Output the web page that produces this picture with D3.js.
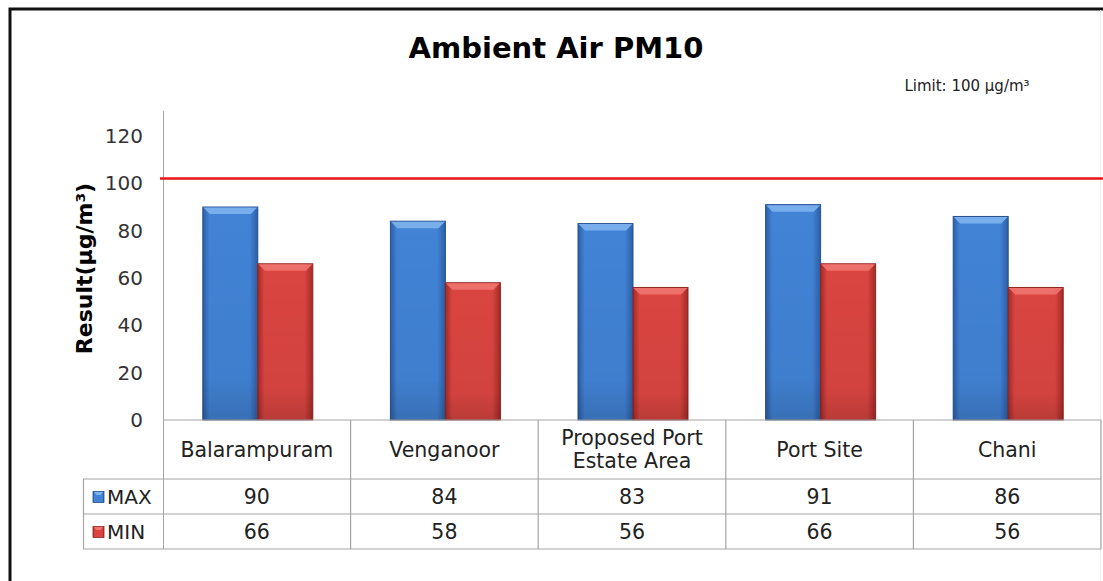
<!DOCTYPE html>
<html><head><meta charset="utf-8">
<script src="https://cdn.jsdelivr.net/npm/d3@7"></script>
<style>
html,body{margin:0;padding:0;background:#fff;}
svg{display:block;}
text{font-family:"DejaVu Sans",Verdana,sans-serif;}
</style></head>
<body>
<script>
const categories = ["Balarampuram","Venganoor","Proposed Port\nEstate Area","Port Site","Chani"];
const seriesNames = ["MAX","MIN"];
const maxValues = [90,84,83,91,86];
const minValues = [66,58,56,66,56];
const yTicks = [0,20,40,60,80,100,120];
const limitLineValue = 102;
const titleText = "Ambient Air PM10";
const limitText = "Limit: 100 μg/m³";
const yLabel = "Result(μg/m³)";

const W = 1103, H = 581;
const svg = d3.select("body").append("svg").attr("width",W).attr("height",H);
const defs = svg.append("defs");

const colors = {
  MAX:{mid:"#4283d6", edge:"#2c5ea6", top:"#7fb2ee", stroke:"#27508f"},
  MIN:{mid:"#da4541", edge:"#a52a26", top:"#f07470", stroke:"#8e2421"}
};
seriesNames.forEach(s=>{
  const g = defs.append("linearGradient").attr("id","g"+s).attr("x1","0").attr("x2","1").attr("y1","0").attr("y2","0");
  g.append("stop").attr("offset","0").attr("stop-color",colors[s].edge);
  g.append("stop").attr("offset","0.12").attr("stop-color",colors[s].mid);
  g.append("stop").attr("offset","0.85").attr("stop-color",colors[s].mid);
  g.append("stop").attr("offset","1").attr("stop-color",colors[s].edge);
  const v = defs.append("linearGradient").attr("id","v"+s).attr("x1","0").attr("x2","0").attr("y1","0").attr("y2","1");
  v.append("stop").attr("offset","0").attr("stop-color","#000").attr("stop-opacity",0);
  v.append("stop").attr("offset","0.8").attr("stop-color","#000").attr("stop-opacity",0.04);
  v.append("stop").attr("offset","1").attr("stop-color","#000").attr("stop-opacity",0.15);
});

// frame
svg.append("path").attr("d","M10,581 V9 H1103").attr("fill","none").attr("stroke","#111").attr("stroke-width",3);
svg.append("line").attr("x1",1100.5).attr("x2",1100.5).attr("y1",10).attr("y2",581).attr("stroke","#eee").attr("stroke-width",1);

// title
svg.append("text").attr("x",556).attr("y",58).attr("text-anchor","middle")
  .attr("font-size",29).attr("font-weight","bold").attr("fill","#000").text(titleText);
svg.append("text").attr("x",967).attr("y",91).attr("text-anchor","middle")
  .attr("font-size",15).attr("fill","#222").text(limitText);

const x0 = d3.scaleBand().domain(categories).range([163,1101]).padding(0);
const bw = x0.bandwidth();
const x1 = d3.scaleBand().domain(seriesNames).range([bw/2-54, bw/2+56]).padding(0);
const y = d3.scaleLinear().domain([0,120]).range([420,136]);

// y axis
const yAxis = d3.axisLeft(y).tickValues(yTicks).tickSize(0).tickPadding(20);
const ya = svg.append("g").attr("transform","translate(163,0)").call(yAxis);
ya.select(".domain").remove();
ya.selectAll("text").attr("font-size",20).attr("fill","#333").attr("font-family","DejaVu Sans, Verdana, sans-serif");
svg.append("line").attr("x1",163.5).attr("x2",163.5).attr("y1",111).attr("y2",549).attr("stroke","#a6a6a6");

svg.append("text").attr("transform","translate(92,"+(y(64))+") rotate(-90)").attr("text-anchor","middle")
  .attr("font-size",22).attr("font-weight","bold").attr("fill","#000").text(yLabel);

// bars
const data = categories.map((c,i)=>({cat:c, vals:[{s:"MAX",v:maxValues[i]},{s:"MIN",v:minValues[i]}]}));
const groups = svg.append("g").selectAll("g").data(data).join("g")
  .attr("transform",d=>`translate(${x0(d.cat)},0)`);
const bars = groups.selectAll("g").data(d=>d.vals).join("g");
bars.append("rect").attr("x",d=>x1(d.s)).attr("y",d=>y(d.v)).attr("width",x1.bandwidth()).attr("height",d=>y(0)-y(d.v))
  .attr("fill",d=>`url(#g${d.s})`).attr("stroke",d=>colors[d.s].stroke).attr("stroke-width",1);
bars.append("rect").attr("x",d=>x1(d.s)).attr("y",d=>y(d.v)).attr("width",x1.bandwidth()).attr("height",d=>y(0)-y(d.v))
  .attr("fill",d=>`url(#v${d.s})`);
bars.append("path").attr("d",d=>{
  const xl=x1(d.s), xr=xl+x1.bandwidth(), t=y(d.v), b=7;
  return `M${xl+0.5},${t+0.5} L${xr-0.5},${t+0.5} L${xr-b},${t+b} L${xl+b},${t+b} Z`;
}).attr("fill",d=>colors[d.s].top).attr("opacity",0.9);

// limit line
svg.append("line").attr("x1",160).attr("x2",1103).attr("y1",y(limitLineValue)).attr("y2",y(limitLineValue))
  .attr("stroke","#e8141a").attr("stroke-width",2.5);

// data table
const rowTops = [420,479,514,549];
const tbl = svg.append("g").attr("stroke","#a6a6a6").attr("stroke-width",1.2).attr("fill","none");
tbl.append("line").attr("x1",163).attr("x2",1101).attr("y1",rowTops[0]).attr("y2",rowTops[0]);
[1,2,3].forEach(i=>tbl.append("line").attr("x1",83).attr("x2",1101).attr("y1",rowTops[i]).attr("y2",rowTops[i]));
tbl.append("line").attr("x1",83.5).attr("x2",83.5).attr("y1",rowTops[1]).attr("y2",rowTops[3]);
categories.forEach(c=>{
  tbl.append("line").attr("x1",x0(c)+bw).attr("x2",x0(c)+bw).attr("y1",rowTops[0]).attr("y2",rowTops[3]);
});
// header labels
categories.forEach(c=>{
  const lines = c.split("\n");
  const cy = (rowTops[0]+rowTops[1])/2;
  const lh = 23;
  const t = svg.append("text").attr("text-anchor","middle").attr("font-size",20.5).attr("fill","#222");
  lines.forEach((ln,k)=>{
    t.append("tspan").attr("x",x0(c)+bw/2).attr("y",cy + (k-(lines.length-1)/2)*lh + 7).text(ln);
  });
});
// series rows
[maxValues,minValues].forEach((vals,r)=>{
  const cy = (rowTops[r+1]+rowTops[r+2])/2;
  const s = seriesNames[r];
  // legend swatch
  svg.append("rect").attr("x",93).attr("y",cy-5).attr("width",11).attr("height",11)
    .attr("fill",`url(#g${s})`).attr("stroke",colors[s].stroke).attr("stroke-width",0.8);
  svg.append("path").attr("d",`M94,${cy-4.5} L103,${cy-4.5} L100.5,${cy-1.5} L96.5,${cy-1.5} Z`).attr("fill",colors[s].top);
  svg.append("text").attr("x",107).attr("y",cy+7).attr("font-size",20).attr("fill","#222").text(s);
  vals.forEach((v,i)=>{
    svg.append("text").attr("x",x0(categories[i])+bw/2).attr("y",cy+7).attr("text-anchor","middle")
      .attr("font-size",20.5).attr("fill","#222").text(v);
  });
});
</script>
</body></html>
